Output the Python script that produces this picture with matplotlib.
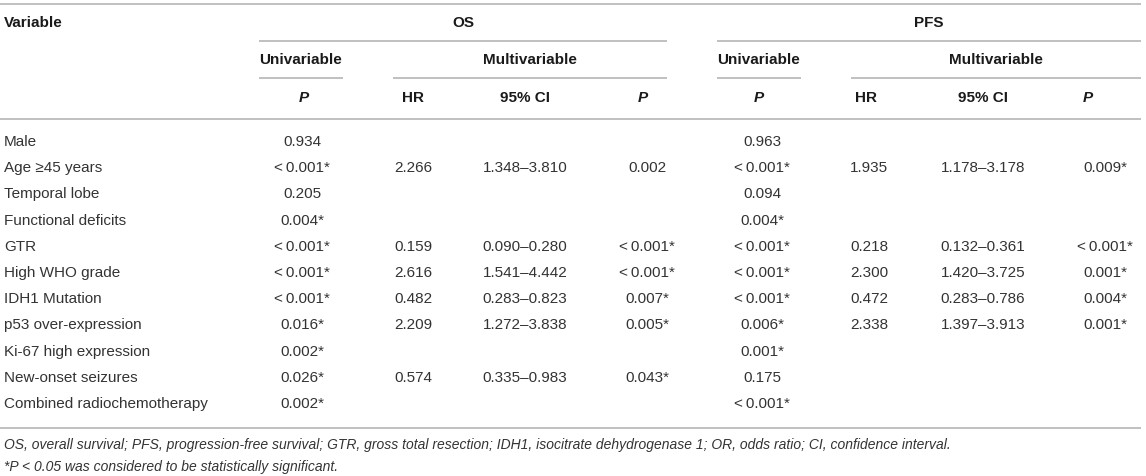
import matplotlib
matplotlib.use("Agg")
import matplotlib.pyplot as plt

variables = ["Male", "Age \u226545 years", "Temporal lobe", "Functional deficits", "GTR",
             "High WHO grade", "IDH1 Mutation", "p53 over-expression", "Ki-67 high expression",
             "New-onset seizures", "Combined radiochemotherapy"]
os_uni_p = ["0.934", "<0.001*", "0.205", "0.004*", "<0.001*", "<0.001*", "<0.001*",
            "0.016*", "0.002*", "0.026*", "0.002*"]
os_hr = ["", "2.266", "", "", "0.159", "2.616", "0.482", "2.209", "", "0.574", ""]
os_ci = ["", "1.348\u20133.810", "", "", "0.090\u20130.280", "1.541\u20134.442",
         "0.283\u20130.823", "1.272\u20133.838", "", "0.335\u20130.983", ""]
os_multi_p = ["", "0.002", "", "", "<0.001*", "<0.001*", "0.007*", "0.005*", "", "0.043*", ""]
pfs_uni_p = ["0.963", "<0.001*", "0.094", "0.004*", "<0.001*", "<0.001*", "<0.001*",
             "0.006*", "0.001*", "0.175", "<0.001*"]
pfs_hr = ["", "1.935", "", "", "0.218", "2.300", "0.472", "2.338", "", "", ""]
pfs_ci = ["", "1.178\u20133.178", "", "", "0.132\u20130.361", "1.420\u20133.725",
          "0.283\u20130.786", "1.397\u20133.913", "", "", ""]
pfs_multi_p = ["", "0.009*", "", "", "<0.001*", "0.001*", "0.004*", "0.001*", "", "", ""]

footnote1 = ("OS, overall survival; PFS, progression-free survival; GTR, gross total resection; "
             "IDH1, isocitrate dehydrogenase 1; OR, odds ratio; CI, confidence interval.")
footnote2 = "*P < 0.05 was considered to be statistically significant."

W, H = 1146, 476
fig = plt.figure(figsize=(W / 100, H / 100), dpi=100)
ax = fig.add_axes([0, 0, 1, 1])
ax.set_xlim(0, W)
ax.set_ylim(H, 0)
ax.axis("off")

FONT = "Liberation Sans"
FS = 11
HDR = "#1a1a1a"
TXT = "#333333"
LINE = "#b5b5b5"
LW = 1.2

def hline(y, x0, x1):
    ax.plot([x0, x1], [y, y], color=LINE, lw=LW, solid_capstyle="butt")

def fmt(s):
    return s.replace("<", "<\u2009")

# rules
hline(4, 0, 1141)
hline(41, 259, 667)
hline(41, 717, 1141)
hline(78, 259, 343)
hline(78, 393, 667)
hline(78, 717, 801)
hline(78, 851, 1141)
hline(119, 0, 1141)
hline(428, 0, 1141)

hdr = dict(fontfamily=FONT, fontsize=FS, fontweight="bold", color=HDR, va="center")
ax.text(4, 23, "Variable", ha="left", **hdr)
ax.text(463, 23, "OS", ha="center", **hdr)
ax.text(929, 23, "PFS", ha="center", **hdr)
ax.text(301, 60, "Univariable", ha="center", **hdr)
ax.text(530, 60, "Multivariable", ha="center", **hdr)
ax.text(759, 60, "Univariable", ha="center", **hdr)
ax.text(996, 60, "Multivariable", ha="center", **hdr)
for x, lab in [(304, "P"), (413, "HR"), (525, "95% CI"), (643, "P"),
               (759, "P"), (866, "HR"), (983, "95% CI"), (1088, "P")]:
    style = "italic" if lab == "P" else "normal"
    ax.text(x, 98, lab, ha="center", fontstyle=style, **hdr)

cols = [(302, os_uni_p), (413, os_hr), (525, os_ci), (647, os_multi_p),
        (762, pfs_uni_p), (869, pfs_hr), (983, pfs_ci), (1105, pfs_multi_p)]
txt = dict(fontfamily=FONT, fontsize=FS, color=TXT, va="center")
for i, v in enumerate(variables):
    y = 142 + i * 26.2
    ax.text(4, y, v, ha="left", **txt)
    for x, vals in cols:
        if vals[i]:
            ax.text(x, y, fmt(vals[i]), ha="center", **txt)

foot = dict(fontfamily=FONT, fontsize=10, color=TXT, va="center", fontstyle="italic", ha="left")
ax.text(4, 445, footnote1, **foot)
ax.text(4, 467, footnote2, **foot)

fig.savefig("out.png", dpi=100)
